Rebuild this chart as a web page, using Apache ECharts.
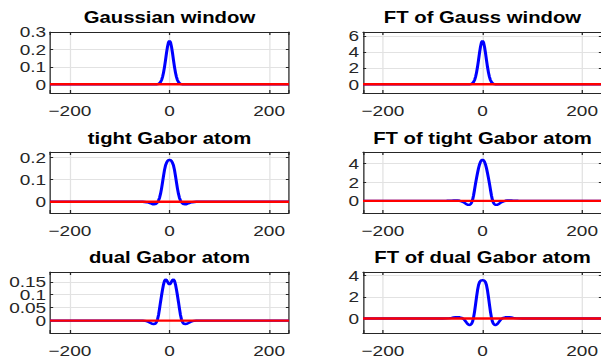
<!DOCTYPE html>
<html>
<head>
<meta charset="utf-8">
<script src="https://cdn.jsdelivr.net/npm/echarts@6/dist/echarts.min.js"></script>
<style>
  html, body { margin: 0; padding: 0; background: #fff; overflow: hidden; width: 601px; height: 359px; }
  /* the figure is drawn narrower and widened horizontally */
  #chart { width: 474px; height: 359px; transform: scaleX(1.27); transform-origin: 0 0; }
</style>
</head>
<body>
<div id="chart"></div>
<script>
// sample positions shared by every real-part curve
const xPos = [-240, -80, -72, -66, -62, -58, -54, -50, -46, -42,
  -38, -36, -34, -32, -30, -28, -26, -24, -22, -20, -18, -16, -14, -12, -10, -8, -6, -4, -2,
  0,
  2, 4, 6, 8, 10, 12, 14, 16, 18, 20, 22, 24, 26, 28, 30, 32, 34, 36, 38,
  42, 46, 50, 54, 58, 62, 66, 72, 80, 240];

const gaussWindow = [0, 0, 0, 0, 0, 0, 0, 0, 0, 0,
  0, 0, 0, 0, 0, 0.0002, 0.0005, 0.0013, 0.003, 0.0065, 0.013, 0.024, 0.042, 0.067, 0.1, 0.139, 0.18, 0.216, 0.241,
  0.25,
  0.241, 0.216, 0.18, 0.139, 0.1, 0.067, 0.042, 0.024, 0.013, 0.0065, 0.003, 0.0013, 0.0005, 0.0002, 0, 0, 0, 0, 0,
  0, 0, 0, 0, 0, 0, 0, 0, 0, 0];

const ftGaussWindow = [0, 0, 0, 0, 0, 0, 0, 0, 0, 0,
  0, 0, 0, 0, 0.001, 0.004, 0.011, 0.028, 0.065, 0.14, 0.28, 0.52, 0.9, 1.45, 2.17, 3.0, 3.89, 4.67, 5.2,
  5.4,
  5.2, 4.67, 3.89, 3.0, 2.17, 1.45, 0.9, 0.52, 0.28, 0.14, 0.065, 0.028, 0.011, 0.004, 0.001, 0, 0, 0, 0,
  0, 0, 0, 0, 0, 0, 0, 0, 0, 0];

const tightAtom = [0, 0, 0, 0, 0, 0, 0, -0.001, -0.002, -0.004,
  -0.007, -0.009, -0.011, -0.011, -0.011, -0.01, -0.007, -0.002, 0.006, 0.018, 0.036, 0.06, 0.088, 0.118, 0.145, 0.165, 0.177, 0.185, 0.189,
  0.19,
  0.189, 0.185, 0.177, 0.165, 0.145, 0.118, 0.088, 0.06, 0.036, 0.018, 0.006, -0.002, -0.007, -0.01, -0.011, -0.011, -0.011, -0.009, -0.007,
  -0.004, -0.002, -0.001, 0, 0, 0, 0, 0, 0, 0];

const ftTightAtom = [0, 0, 0.01, 0.02, 0.03, 0.04, 0.05, 0.04, 0.01, -0.05,
  -0.15, -0.22, -0.29, -0.36, -0.41, -0.43, -0.42, -0.35, -0.2, 0.08, 0.58, 1.2, 1.85, 2.45, 3.0, 3.5, 3.9, 4.2, 4.37,
  4.43,
  4.37, 4.2, 3.9, 3.5, 3.0, 2.45, 1.85, 1.2, 0.58, 0.08, -0.2, -0.35, -0.42, -0.43, -0.41, -0.36, -0.29, -0.22, -0.15,
  -0.05, 0.01, 0.04, 0.05, 0.04, 0.03, 0.02, 0.01, 0, 0];

const dualAtom = [0, 0, 0, 0, 0, 0, 0, -0.001, -0.002, -0.005,
  -0.009, -0.011, -0.013, -0.014, -0.013, -0.011, -0.005, 0.005, 0.022, 0.046, 0.072, 0.097, 0.12, 0.14, 0.154, 0.159, 0.157, 0.15, 0.143,
  0.14,
  0.143, 0.15, 0.157, 0.159, 0.154, 0.14, 0.12, 0.097, 0.072, 0.046, 0.022, 0.005, -0.005, -0.011, -0.013, -0.014, -0.013, -0.011, -0.009,
  -0.005, -0.002, -0.001, 0, 0, 0, 0, 0, 0, 0];

const ftDualAtom = [0, 0, 0.01, 0.03, 0.06, 0.1, 0.13, 0.13, 0.11, 0.06,
  -0.04, -0.14, -0.26, -0.39, -0.5, -0.58, -0.61, -0.59, -0.5, -0.3, 0.08, 0.62, 1.28, 1.98, 2.62, 3.1, 3.38, 3.5, 3.54,
  3.55,
  3.54, 3.5, 3.38, 3.1, 2.62, 1.98, 1.28, 0.62, 0.08, -0.3, -0.5, -0.59, -0.61, -0.58, -0.5, -0.39, -0.26, -0.14, -0.04,
  0.06, 0.11, 0.13, 0.13, 0.1, 0.06, 0.03, 0.01, 0, 0];

// imaginary parts: zero everywhere
const imagX = [-240, 240];
const imagY = [0, 0];

// axis limits and tick steps
const xLimits = [-240, 240];
const xTickStep = 200;

const titles = ['Gaussian window', 'FT of Gauss window', 'tight Gabor atom',
  'FT of tight Gabor atom', 'dual Gabor atom', 'FT of dual Gabor atom'];
const curves = [gaussWindow, ftGaussWindow, tightAtom, ftTightAtom, dualAtom, ftDualAtom];
const yLimits = [[-0.05, 0.3], [-1.08, 6.48], [-0.051, 0.226], [-1.3, 5.25], [-0.048, 0.188], [-1.35, 4.32]];
const yTickSteps = [0.1, 2, 0.1, 2, 0.05, 2];

// ---- layout (screen pixels, converted for the horizontal widening) ----
const SX = 1.27;
const px = v => v / SX;
const colLeft = [50, 363];
const boxW = 239;
const rowTop = [32, 152, 272];
const boxH = 61;
const titleTop = [9, 130, 249];

const FONT = "'Liberation Sans', Arial, Helvetica, sans-serif";
const INK = '#262626';

function tickFormatter(step) {
  return function (v) {
    const k = Math.round(v / step);
    if (Math.abs(v - k * step) > step * 1e-6) return '';
    return String(parseFloat((k * step).toFixed(4))).replace('-', '\u2212');
  };
}

const grid = [], xAxis = [], yAxis = [], series = [], title = [];

titles.forEach((t, i) => {
  const col = i % 2, row = Math.floor(i / 2);
  const left = px(colLeft[col]);
  const width = px(boxW);
  grid.push({ left: left, top: rowTop[row], width: width, height: boxH,
    outerBoundsMode: 'none', containLabel: false });
  title.push({
    text: t, left: left + width / 2, top: titleTop[row], textAlign: 'center', padding: 0,
    textStyle: { fontFamily: FONT, fontSize: 16, fontWeight: 'bold', color: '#000' }
  });

  const tickX = { show: true, inside: true, length: 3, lineStyle: { color: INK, width: 1 } };
  const tickY = { show: true, inside: true, length: 2.5, lineStyle: { color: INK, width: 1 } };
  const border = { show: true, onZero: false, lineStyle: { color: INK, width: 1 } };
  const gridLine = { show: true, showMinLine: false, showMaxLine: false, lineStyle: { color: '#e2e2e2', width: 1 } };

  const xCommon = { type: 'value', gridIndex: i, min: xLimits[0], max: xLimits[1],
    minInterval: xTickStep, maxInterval: xTickStep, axisLine: border };
  xAxis.push(Object.assign({}, xCommon, {
    position: 'bottom', axisTick: tickX, splitLine: gridLine,
    axisLabel: { show: true, margin: 10, fontSize: 15, fontFamily: FONT, color: INK,
      hideOverlap: false, formatter: tickFormatter(xTickStep) }
  }));
  xAxis.push(Object.assign({}, xCommon, {
    position: 'top', axisTick: tickX, splitLine: { show: false }, axisLabel: { show: false }
  }));

  const step = yTickSteps[i];
  const yCommon = { type: 'value', gridIndex: i, min: yLimits[i][0], max: yLimits[i][1],
    minInterval: step, maxInterval: step, axisLine: border };
  yAxis.push(Object.assign({}, yCommon, {
    position: 'left', axisTick: tickY, splitLine: gridLine,
    axisLabel: { show: true, margin: 3, fontSize: 15, fontFamily: FONT, color: INK,
      hideOverlap: false, formatter: tickFormatter(step) }
  }));
  yAxis.push(Object.assign({}, yCommon, {
    position: 'right', axisTick: tickY, splitLine: { show: false }, axisLabel: { show: false }
  }));

  series.push({
    type: 'line', xAxisIndex: 2 * i, yAxisIndex: 2 * i, z: 2, silent: true,
    showSymbol: false, symbol: 'none',
    data: xPos.map((x, k) => [x, curves[i][k]]),
    lineStyle: { color: '#0000ff', width: 2.4 }
  });
  series.push({
    type: 'line', xAxisIndex: 2 * i, yAxisIndex: 2 * i, z: 3, silent: true,
    showSymbol: false, symbol: 'none',
    data: imagX.map((x, k) => [x, imagY[k]]),
    lineStyle: { color: '#ff0000', width: 2.4 }
  });
});

const chart = echarts.init(document.getElementById('chart'), null, { renderer: 'svg' });
chart.setOption({
  animation: false,
  backgroundColor: '#fff',
  title: title,
  grid: grid,
  xAxis: xAxis,
  yAxis: yAxis,
  series: series
});
</script>
</body>
</html>
